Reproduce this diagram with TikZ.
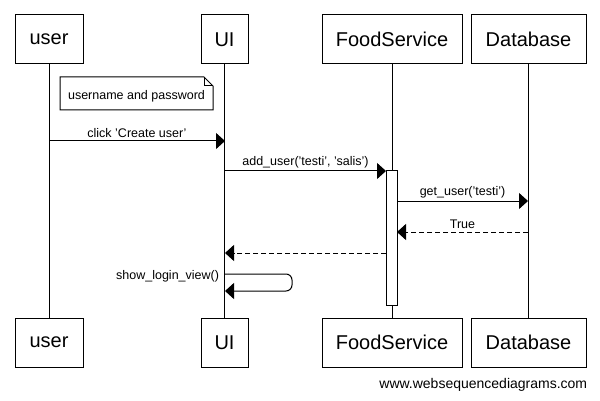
\documentclass[tikz,border=0pt]{standalone}
\usepackage{fontspec}
\setmainfont{Liberation Sans}
\usetikzlibrary{arrows.meta}
\begin{document}
\begin{tikzpicture}[x=1pt, y=-1pt, line width=1pt,
    actor/.style={draw, rectangle, minimum height=49pt, inner sep=0pt,
                  font=\fontsize{20}{24}\selectfont},
    msg/.style={-{Triangle[length=9pt,width=16pt]}},
    reply/.style={msg, dash pattern=on 5pt off 3pt},
    lbl/.style={font=\fontsize{12.5}{15}\selectfont, inner sep=2.5pt, above}]
  \useasboundingbox (0,0) rectangle (600,401);
  \node[actor, minimum width=68pt] (user) at (49,39.5) {user};
  \node[actor, minimum width=47pt] (ui) at (224.5,39.5) {UI};
  \node[actor, minimum width=140pt] (fs) at (392,39.5) {FoodService};
  \node[actor, minimum width=115pt] (db) at (528.5,39.5) {Database};
  \node[actor, minimum width=68pt] (user2) at (49,342.5) {user};
  \node[actor, minimum width=47pt] (ui2) at (224.5,342.5) {UI};
  \node[actor, minimum width=140pt] (fs2) at (392,342.5) {FoodService};
  \node[actor, minimum width=115pt] (db2) at (528.5,342.5) {Database};
  % lifelines
  \draw (user) -- (user2);
  \draw (ui) -- (ui2);
  \draw (fs) -- (fs2);
  \draw (db) -- (db2);
  \node[draw, fill=white, minimum width=11pt, minimum height=134pt, inner sep=0pt]
    (act) at (391.5,238) {};
  % note
  \draw (60,77) -- (204,77) -- (213,86) -- (213,110) -- (60,110) -- cycle;
  \draw (204,77) -- (204,86) -- (213,86);
  \node[font=\fontsize{12.5}{15}\selectfont] (note) at (136.5,96) {username and password};
  % message ends
  \coordinate (c1) at (49,141);   \coordinate (c2) at (225,141);
  \coordinate (a1) at (225,171);  \coordinate (a2) at (386,171);
  \coordinate (g1) at (397,201);  \coordinate (g2) at (528,201);
  \coordinate (t1) at (528,232);  \coordinate (t2) at (397,232);
  \coordinate (r1) at (386,253);  \coordinate (r2) at (225,253);
  \coordinate (s1) at (225,274);  \coordinate (s2) at (225,291);
  \draw[msg] (c1) -- node[lbl] {click 'Create user'} (c2);
  \draw[msg] (a1) -- node[lbl] {add\_user('testi', 'salis')} (a2);
  \draw[msg] (g1) -- node[lbl] {get\_user('testi')} (g2);
  \draw[reply] (t1) -- node[lbl] {True} (t2);
  \draw[reply] (r1) -- (r2);
  \draw[msg, rounded corners=6pt] (s1) -- ++(67,0) |- (s2);
  \node[lbl, anchor=east, xshift=-3pt, yshift=-2pt] (selflbl) at (s1) {show\_login\_view()};
  \node[font=\fontsize{14}{17}\selectfont, anchor=east] (footer) at (591,385)
    {www.websequencediagrams.com};
\end{tikzpicture}
\end{document}
